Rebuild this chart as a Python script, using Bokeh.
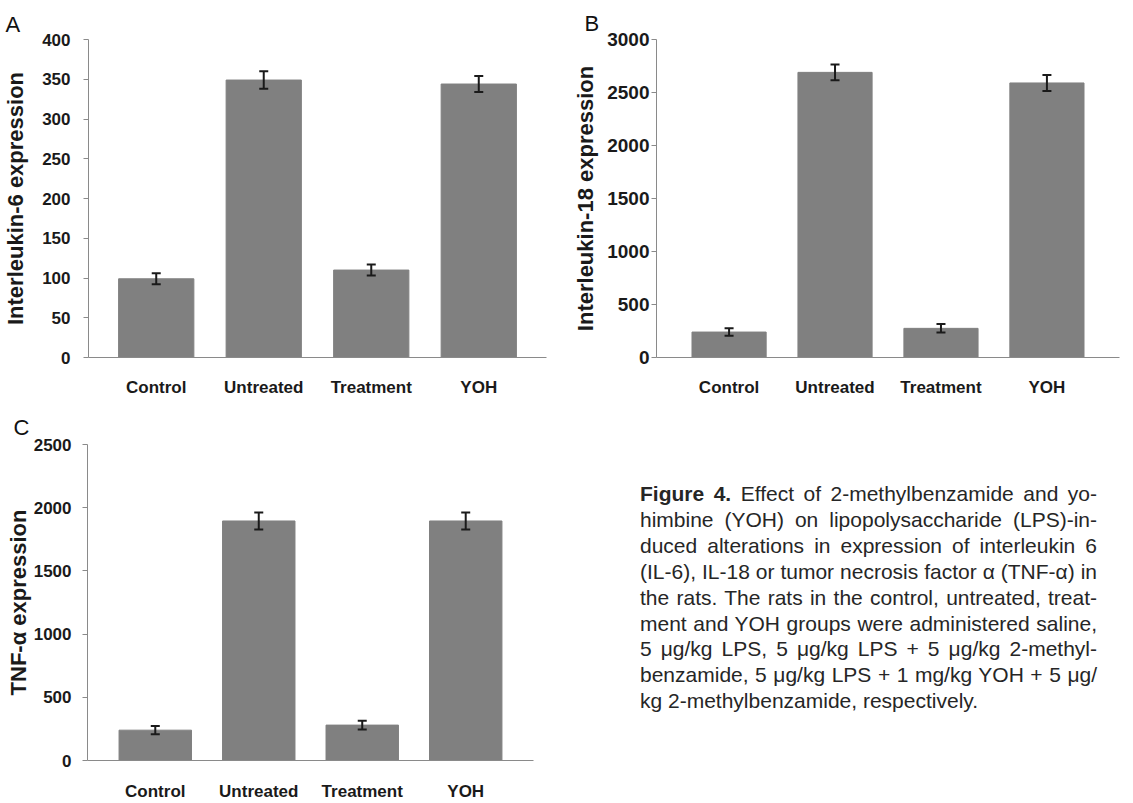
from bokeh.plotting import figure
from bokeh.models import ColumnDataSource, Whisker, TeeHead, Range1d, FactorRange, Div, FixedTicker, Title
from bokeh.layouts import column, row
from bokeh.embed import file_html
from bokeh.resources import INLINE

# ---------------- data ----------------
groups = ["Control", "Untreated", "Treatment", "YOH"]

il6 = [99, 349, 110, 344]
il6_err = [7, 11, 7, 10]
il6_ticks = [0, 50, 100, 150, 200, 250, 300, 350, 400]

il18 = [240, 2690, 275, 2590]
il18_err = [35, 75, 40, 75]
il18_ticks = [0, 500, 1000, 1500, 2000, 2500, 3000]

tnf = [240, 1895, 280, 1895]
tnf_err = [32, 68, 35, 68]
tnf_ticks = [0, 500, 1000, 1500, 2000, 2500]

caption_lines = [
    "Effect of 2-methylbenzamide and yo-",
    "himbine (YOH) on lipopolysaccharide (LPS)-in-",
    "duced alterations in expression of interleukin 6",
    "(IL-6), IL-18 or tumor necrosis factor α (TNF-α) in",
    "the rats. The rats in the control, untreated, treat-",
    "ment and YOH groups were administered saline,",
    "5 μg/kg LPS, 5 μg/kg LPS + 5 μg/kg 2-methyl-",
    "benzamide, 5 μg/kg LPS + 1 mg/kg YOH + 5 μg/",
    "kg 2-methylbenzamide, respectively.",
]

FONT = "Liberation Sans"
TXT = "#1a1a1a"
AX = "#8a8a8a"
BAR = "#808080"


def panel(vals, errs, ticks, ylabel, letter, w, h, bl, br, bt, bb, pad,
          tick_fs, tick_standoff, label_standoff, xlab_standoff, letter_offset, letter_standoff):
    src = ColumnDataSource(dict(
        g=groups, v=vals,
        up=[a + b for a, b in zip(vals, errs)],
        lo=[a - b for a, b in zip(vals, errs)],
    ))
    title = Title(text=letter, align="left", offset=letter_offset, standoff=letter_standoff,
                  text_font=FONT, text_font_size="22px", text_font_style="normal",
                  text_color="#111111")
    p = figure(x_range=FactorRange(*groups, range_padding=pad, range_padding_units="absolute"),
               y_range=Range1d(ticks[0], ticks[-1]), title=title,
               width=w, height=h, output_backend="svg", toolbar_location=None,
               min_border_left=bl, min_border_right=br, min_border_top=bt, min_border_bottom=bb)
    p.outline_line_color = None
    p.xgrid.grid_line_color = None
    p.ygrid.grid_line_color = None
    p.background_fill_color = "white"
    p.border_fill_color = "white"

    p.vbar(x="g", top="v", width=0.7, source=src, fill_color=BAR, line_color=BAR)
    wk = Whisker(base="g", upper="up", lower="lo", source=src,
                 line_color=TXT, line_width=2, level="annotation",
                 upper_head=TeeHead(size=9, line_color=TXT, line_width=2),
                 lower_head=TeeHead(size=9, line_color=TXT, line_width=2))
    p.add_layout(wk)

    ya = p.yaxis[0]
    ya.ticker = FixedTicker(ticks=ticks)
    ya.axis_line_color = AX
    ya.major_tick_line_color = AX
    ya.major_tick_out = 5
    ya.major_tick_in = 0
    ya.minor_tick_out = 0
    ya.minor_tick_in = 0
    ya.major_label_text_font = FONT
    ya.major_label_text_font_style = "bold"
    ya.major_label_text_font_size = tick_fs
    ya.major_label_text_color = TXT
    ya.major_label_standoff = tick_standoff
    ya.axis_label = ylabel
    ya.axis_label_text_font = FONT
    ya.axis_label_text_font_style = "bold"
    ya.axis_label_text_font_size = "22px"
    ya.axis_label_text_color = TXT
    ya.axis_label_standoff = label_standoff

    xa = p.xaxis[0]
    xa.axis_line_color = AX
    xa.major_tick_line_color = None
    xa.major_tick_out = 0
    xa.major_tick_in = 0
    xa.major_label_text_font = FONT
    xa.major_label_text_font_style = "bold"
    xa.major_label_text_font_size = "17px"
    xa.major_label_text_color = TXT
    xa.major_label_standoff = xlab_standoff
    return p


pA = panel(il6, il6_err, il6_ticks, "Interleukin-6 expression", "A",
           560, 400, 88, 14, 39, 43, 0.13, "17px", 13, 11, 20, -83, 6)
pB = panel(il18, il18_err, il18_ticks, "Interleukin-18 expression", "B",
           573, 400, 96, 14, 38, 43, 0.185, "19px", 2, 6, 20, -72, 7)
pC = panel(tnf, tnf_err, tnf_ticks, "TNF-α expression", "C",
           560, 403, 87, 27, 44, 41, 0.155, "17px", 11, 0, 21, -74, 9)

line_divs = []
for i, ln in enumerate(caption_lines):
    txt = ("<b>Figure 4.</b> " + ln) if i == 0 else ln
    last = (i == len(caption_lines) - 1)
    style = "text-align:left;" if last else "text-align:justify;text-align-last:justify;"
    line_divs.append('<div style="%s white-space:nowrap;">%s</div>' % (style, txt))

cap_html = ('<div style="margin-left:75px;margin-top:76px;width:457px;font-family:\'Liberation Sans\';'
            'font-size:21px;line-height:25.9px;color:#262626;">' + "".join(line_divs) + "</div>")
cap = Div(text=cap_html, width=573, height=403)

layout = column(row(pA, pB), row(pC, cap))

open("out.html", "w").write(file_html(layout, INLINE))
